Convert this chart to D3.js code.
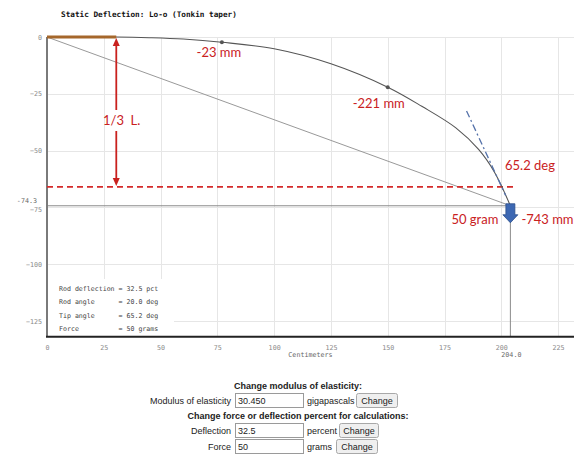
<!DOCTYPE html>
<html>
<head>
<meta charset="utf-8">
<script src="https://cdn.jsdelivr.net/npm/d3@7/dist/d3.min.js"></script>
<style>
  html, body { margin: 0; padding: 0; background: #fff; }
  svg { display: block; }
  .mono { font-family: "DejaVu Sans Mono", "Liberation Mono", monospace; }
  .note { font-family: Lato, "Open Sans", sans-serif; font-size: 13px; fill: #c9211e; }
  .form { font-family: "Liberation Sans", Arial, sans-serif; font-size: 9px; fill: #222; }
</style>
</head>
<body>
<svg id="chart" width="576" height="459"></svg>
<script>
// Rod profile (centimetres): position along the rod and vertical deflection
const rodX = [0, 30.5, 45, 60, 77, 100, 125, 150, 165, 180, 190, 197, 204];
const rodY = [0, 0, -0.3, -0.9, -2.3, -5.2, -11.8, -22.1, -30.5, -40.0, -49.5, -59.5, -74.3];

// Marked stations along the rod, with their deflection labels
const markX = [77, 150];
const markY = [-2.3, -22.1];
const markLabels = ["-23 mm", "-221 mm"];

// Tip and loading summary
const tipX = 204.0;
const tipY = -74.3;
const tipAngle = 65.2;     // degrees
const rodAngle = 20.0;     // degrees
const deflectionPct = 32.5;
const forceGrams = 50;
const handleLen = 30.5;    // cm of grip shown in brown
const thirdLevel = -66;    // "1/3 L." reference level

// Axis ticks
const xTicks = [0, 25, 50, 75, 100, 125, 150, 175, 200, 225];
const yTicks = [0, -25, -50, -75, -100, -125];

// Summary table rows
const summaryRows = [
  "Rod deflection = " + deflectionPct.toFixed(1) + " pct",
  "Rod angle      = " + rodAngle.toFixed(1) + " deg",
  "Tip angle      = " + tipAngle.toFixed(1) + " deg",
  "Force          = " + forceGrams + " grams"
];

// Form fields below the chart
const modulusValue = "30.450";

const svg = d3.select("#chart");
const k = 2.2715; // pixels per cm on both axes
const x0 = 47, y0 = 37;
const x = d3.scaleLinear().domain([0, 232]).range([x0, x0 + 232 * k]);
const y = d3.scaleLinear().domain([0, -132]).range([y0, y0 + 132 * k]);

// Title
svg.append("text").attr("class", "mono")
  .attr("x", 61).attr("y", 17)
  .attr("font-size", 7.7).attr("font-weight", "bold").attr("fill", "#111")
  .text("Static Deflection: Lo-o (Tonkin taper)");

// Grid
const grid = svg.append("g").attr("stroke", "#e6e6e6").attr("stroke-width", 1);
grid.selectAll("line.v").data(xTicks.filter(d => d > 0)).join("line")
  .attr("x1", d => Math.round(x(d)) + 0.5).attr("x2", d => Math.round(x(d)) + 0.5)
  .attr("y1", y(0)).attr("y2", y(-132));
grid.selectAll("line.h").data(yTicks).join("line")
  .attr("y1", d => Math.round(y(d)) + 0.5).attr("y2", d => Math.round(y(d)) + 0.5)
  .attr("x1", x(0)).attr("x2", x(232));

// Axes (labels only, no tick marks)
const xAxis = svg.append("g")
  .attr("transform", `translate(0,${y(-132)})`)
  .call(d3.axisBottom(x).tickValues(xTicks).tickSize(0).tickPadding(8));
xAxis.select(".domain").remove();
xAxis.selectAll("text").attr("class", "mono").attr("font-size", 6.7).attr("fill", "#888");

const yAxis = svg.append("g")
  .attr("transform", `translate(${x(0)},0)`)
  .call(d3.axisLeft(y).tickValues(yTicks).tickSize(0).tickPadding(5));
yAxis.select(".domain").remove();
yAxis.selectAll("text").attr("class", "mono").attr("font-size", 6.7).attr("fill", "#888")
  .attr("dy", d => d === -75 ? "0.6em" : "0.32em");

// Axis titles and tip markers
svg.append("text").attr("class", "mono").attr("font-size", 6.7).attr("fill", "#666")
  .attr("x", x(116)).attr("y", y(-132) + 20).attr("text-anchor", "middle").text("Centimeters");
svg.append("text").attr("class", "mono").attr("font-size", 6.7).attr("fill", "#666")
  .attr("x", x(tipX) + 1).attr("y", y(-132) + 20).attr("text-anchor", "middle").text(tipX.toFixed(1));
svg.append("text").attr("class", "mono").attr("font-size", 6.7).attr("fill", "#666")
  .attr("x", 37).attr("y", y(tipY) - 2.5).attr("text-anchor", "end").text(tipY.toFixed(1));

// Summary box
svg.append("rect").attr("x", x(0) + 1).attr("y", 279).attr("width", 126)
  .attr("height", y(-132) - 279).attr("fill", "#fff");
svg.append("g").selectAll("text").data(summaryRows).join("text")
  .attr("class", "mono").attr("font-size", 6.6).attr("fill", "#444")
  .attr("x", 59).attr("y", (d, i) => 291 + i * 13.3)
  .attr("xml:space", "preserve").style("white-space", "pre")
  .text(d => d);

// Tip level and tip vertical reference lines
svg.append("line").attr("x1", x(0)).attr("x2", x(tipX))
  .attr("y1", y(tipY)).attr("y2", y(tipY)).attr("stroke", "#8a8a8a").attr("stroke-width", 1);
svg.append("line").attr("x1", x(tipX)).attr("x2", x(tipX))
  .attr("y1", y(tipY)).attr("y2", y(-132)).attr("stroke", "#8a8a8a").attr("stroke-width", 1);

// Chord from butt to tip
svg.append("line").attr("x1", x(0)).attr("y1", y(0)).attr("x2", x(tipX)).attr("y2", y(tipY))
  .attr("stroke", "#999").attr("stroke-width", 1);

// Frame lines
svg.append("line").attr("x1", x(0)).attr("x2", x(0)).attr("y1", y(0)).attr("y2", y(-132))
  .attr("stroke", "#7a7a7a").attr("stroke-width", 2);
svg.append("line").attr("x1", x(0) - 1).attr("x2", x(232)).attr("y1", y(-132)).attr("y2", y(-132))
  .attr("stroke", "#222").attr("stroke-width", 2);

// Red "1/3 L." reference level
const red = "#c9211e";
svg.append("line").attr("x1", x(0)).attr("x2", x(tipX + 1.5))
  .attr("y1", y(thirdLevel)).attr("y2", y(thirdLevel))
  .attr("stroke", "#d42a2a").attr("stroke-width", 1.8).attr("stroke-dasharray", "6,4");

// Double arrow marking the third
const ax = x(handleLen);
const aTop = y(0) + 1, aBot = y(thirdLevel) - 1;
svg.append("line").attr("x1", ax).attr("x2", ax).attr("y1", aTop + 6).attr("y2", 110)
  .attr("stroke", red).attr("stroke-width", 1.8);
svg.append("line").attr("x1", ax).attr("x2", ax).attr("y1", 131).attr("y2", aBot - 6)
  .attr("stroke", red).attr("stroke-width", 1.8);
svg.append("path").attr("fill", red)
  .attr("d", `M${ax},${aTop} L${ax - 3.5},${aTop + 8} L${ax + 3.5},${aTop + 8} Z`);
svg.append("path").attr("fill", red)
  .attr("d", `M${ax},${aBot} L${ax - 3.5},${aBot - 8} L${ax + 3.5},${aBot - 8} Z`);
svg.append("text").attr("class", "note").attr("x", 103).attr("y", 125)
  .attr("xml:space", "preserve").style("white-space", "pre").text("1/3  L.");

// Rod profile
svg.append("path")
  .datum(rodX.map((d, i) => [d, rodY[i]]))
  .attr("fill", "none").attr("stroke", "#555").attr("stroke-width", 1.1)
  .attr("d", d3.line().x(d => x(d[0])).y(d => y(d[1])).curve(d3.curveCatmullRom.alpha(0.5)));

// Grip section
svg.append("line").attr("x1", x(0)).attr("x2", x(handleLen))
  .attr("y1", y(0)).attr("y2", y(0)).attr("stroke", "#a5672b").attr("stroke-width", 3);

// Station markers and labels (label offsets below each marker)
const labelDx = [-3, -9];
const labelDy = [15, 21];
svg.selectAll("circle.mark").data(markX).join("circle")
  .attr("cx", d => x(d)).attr("cy", (d, i) => y(markY[i])).attr("r", 2).attr("fill", "#555");
svg.selectAll("text.marklab").data(markLabels).join("text")
  .attr("class", "note")
  .attr("x", (d, i) => x(markX[i]) + labelDx[i]).attr("y", (d, i) => y(markY[i]) + labelDy[i])
  .attr("text-anchor", "middle").text(d => d);

// Tip tangent (dash-dot) at the tip angle
const rad = tipAngle * Math.PI / 180;
const tA = 46, tB = 5; // distances along the tangent from the tip, in cm
svg.append("line")
  .attr("x1", x(tipX - tA * Math.cos(rad))).attr("y1", y(tipY + tA * Math.sin(rad)))
  .attr("x2", x(tipX - tB * Math.cos(rad))).attr("y2", y(tipY + tB * Math.sin(rad)))
  .attr("stroke", "#5572aa").attr("stroke-width", 1.3).attr("stroke-dasharray", "7,3,2,3");

svg.append("text").attr("class", "note").attr("x", 505).attr("y", 170).text(tipAngle + " deg");

// Load arrow at the tip
const bx = x(tipX), by = y(tipY) - 2;
svg.append("path").attr("fill", "#3d68b3").attr("stroke", "#2c4f8c").attr("stroke-width", 0.8)
  .attr("d", `M${bx - 4.5},${by} L${bx + 4.5},${by} L${bx + 4.5},${by + 11} L${bx + 7.5},${by + 11}
             L${bx},${by + 19} L${bx - 7.5},${by + 11} L${bx - 4.5},${by + 11} Z`);
svg.append("text").attr("class", "note").attr("x", bx - 12).attr("y", 224)
  .attr("text-anchor", "end").text(forceGrams + " gram");
svg.append("text").attr("class", "note").attr("x", bx + 11).attr("y", 224)
  .text(Math.round(tipY * 10) + " mm");

// ---- Form controls below the chart ----
const form = svg.append("g");
function label(tx, ty, s, anchor, bold) {
  form.append("text").attr("class", "form").attr("x", tx).attr("y", ty)
    .attr("text-anchor", anchor || "start").attr("font-weight", bold ? "bold" : null).text(s);
}
function inputBox(bx, byy, w, h, v) {
  form.append("rect").attr("x", bx + 0.5).attr("y", byy + 0.5).attr("width", w).attr("height", h)
    .attr("fill", "#fff").attr("stroke", "#9a9a9a");
  label(bx + 3, byy + h - 3.5, v);
}
function button(bx, byy, w, h) {
  form.append("rect").attr("x", bx + 0.5).attr("y", byy + 0.5).attr("width", w).attr("height", h)
    .attr("rx", 2).attr("fill", "#efefef").attr("stroke", "#a8a8a8");
  form.append("text").attr("class", "form").attr("font-size", 10)
    .attr("x", bx + w / 2 + 0.5).attr("y", byy + h - 3.5).attr("text-anchor", "middle").text("Change");
}

label(298, 389, "Change modulus of elasticity:", "middle", true);
label(231, 404, "Modulus of elasticity", "end");
inputBox(235, 393, 68, 14, modulusValue);
label(307, 404, "gigapascals");
button(356, 393, 41, 14);

label(298, 419, "Change force or deflection percent for calculations:", "middle", true);
label(231, 434, "Deflection", "end");
inputBox(235, 423, 68, 14, String(deflectionPct));
label(307, 434, "percent");
button(339, 423, 39, 14);

label(231, 450, "Force", "end");
inputBox(235, 439, 68, 14, String(forceGrams));
label(307, 450, "grams");
button(336, 439, 41, 14);
</script>
</body>
</html>
